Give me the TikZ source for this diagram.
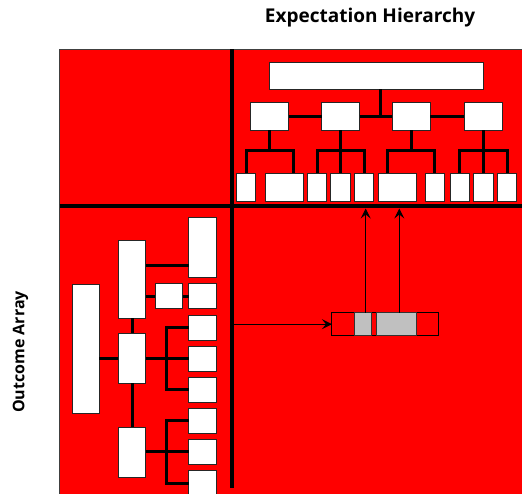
\documentclass[tikz,border=0pt]{standalone}
\usepackage{fontspec}
\setmainfont{Open Sans}
\usetikzlibrary{arrows.meta,calc}
\definecolor{panelred}{RGB}{255,0,0}
\definecolor{cellgray}{RGB}{192,192,192}
\tikzset{
  wbox/.style={draw=black!85, fill=white, line width=0.9pt, inner sep=0pt, outer sep=0pt},
  tree/.style={line width=3pt, draw=black},
  divider/.style={draw=black, line width=4pt},
  link/.style={draw=black, line width=1pt, -{Stealth[length=10pt,width=10pt,inset=4pt]}},
  title/.style={font=\bfseries\fontsize{19}{22}\selectfont, inner sep=0pt},
}
\newcommand\wb[5]{\node[wbox, minimum width=#4pt, minimum height=#5pt] (#1) at (#2,#3) {};}
\begin{document}
\begin{tikzpicture}[x=1pt,y=-1pt]
\useasboundingbox (0,0) rectangle (522,493);
\clip (0,0) rectangle (522,493);

% panel background
\fill[panelred, draw=black!75, line width=1pt] (59.5,49) rectangle (524,495);

% quadrant dividers
\coordinate (hl) at (59.5,206.3);
\coordinate (hr) at (522,206.3);
\coordinate (vt) at (231.7,49);
\coordinate (vb) at (231.7,488.3);
\draw[divider] (hl) -- (hr);
\draw[divider, line width=3.6pt] (vt) -- (vb);

% ---- expectation hierarchy ----
\wb{top}{376.3}{76}{214}{26.5}
\foreach \n/\x in {m1/269.7, m2/340.7, m3/411.3, m4/483.3}
  {\wb{\n}{\x}{116.5}{38}{27.5}}
\foreach \n/\x/\w in {b1/246.2/19, b2/284/38, b3/317/19.4, b4/340.3/19.4, b5/364/19.4,
                      b6/397/38, b7/434.8/19, b8/459.7/19.4, b9/483.3/19.4, b10/507.2/19}
  {\wb{\n}{\x}{187.2}{\w}{27.7}}

\draw[tree] (m1.east) -- (m2.west);
\draw[tree] (m2.east) -- (m3.west);
\draw[tree] (m3.east) -- (m4.west);
\draw[tree] ([xshift=3.7pt]top.south) -- ([xshift=3.7pt]top.south |- m1.east);

\draw[tree] (m1.south) -- ++(0,20) coordinate (j1);
\draw[tree] (b1.north) |- (j1) -| ([xshift=9.3pt]b2.north);
\draw[tree] (m2.south) -- (m2.south |- b4.north);
\draw[tree] (b3.north) |- ($(m2.south)+(0,20)$) -| (b5.north);
\draw[tree] (m3.south) -- ++(0,20) coordinate (j3);
\draw[tree] ([xshift=-9.3pt]b6.north) |- (j3) -| (b7.north);
\draw[tree] (m4.south) -- (b9.north);
\draw[tree] (b8.north) |- ($(m4.south)+(0,20)$) -| (b10.north);

% ---- outcome array ----
\wb{L}{85.8}{349.2}{27}{129}
\wb{A}{132}{279.3}{27.4}{78}
\wb{B}{132}{358.3}{27.4}{50}
\wb{C}{132}{452.2}{27.4}{49.7}
\wb{S}{169}{296.2}{27.4}{25}
\wb{r1}{202.3}{247.3}{27.3}{60}
\foreach \n/\y in {r2/296.2, r3/327.5, r4/358.5, r5/389.8, r6/420.8, r7/451.8, r8/483.2}
  {\wb{\n}{202.3}{\y}{27.3}{25}}

\draw[tree] (L.east |- B.west) -- (B.west);
\draw[tree] (A.south) -- (B.north);
\draw[tree] (B.south) -- (C.north);
\draw[tree] ([yshift=14.3pt]A.east) coordinate (a1) -- (a1 -| r1.west);
\draw[tree] (A.east |- S.west) -- (S.west);
\draw[tree] (S.east) -- (r2.west);
\draw[tree] (B.east |- r4.west) -- (r4.west);
\draw[tree] (r3.west) -| ([xshift=21pt]B.east |- r4.west) |- (r5.west);
\draw[tree] (C.east |- r7.west) -- (r7.west);
\draw[tree] (r6.west) -| ([xshift=21pt]C.east |- r7.west) |- (r8.west);

% ---- selected outcome strip ----
\node[draw=black, line width=1pt, fill=panelred, minimum width=106.7pt, minimum height=23pt,
      inner sep=0pt, outer sep=0pt] (st) at (385.3,324.2) {};
\node[draw=black!80, line width=0.9pt, fill=cellgray, minimum width=17pt, minimum height=23pt,
      inner sep=0pt, outer sep=0pt] (g1) at (362.8,324.2) {};
\node[draw=black!80, line width=0.9pt, fill=cellgray, minimum width=39.3pt, minimum height=23pt,
      inner sep=0pt, outer sep=0pt] (g2) at (396.3,324.2) {};

\draw[link] ([xshift=1.8pt]vt |- st.west) -- (st.west);
\draw[link] ([xshift=2.9pt]g1.north) -- ([xshift=2.9pt]g1.north |- 0,208.5);
\draw[link] ([xshift=3pt]g2.north) -- ([xshift=3pt]g2.north |- 0,208.5);

% ---- axis titles ----
\node[title] (ttl) at (370,18) {Expectation Hierarchy};
\node[title, font=\bfseries\fontsize{16}{19}\selectfont, rotate=90] (otl) at (20.5,352) {Outcome Array};
\end{tikzpicture}
\end{document}
